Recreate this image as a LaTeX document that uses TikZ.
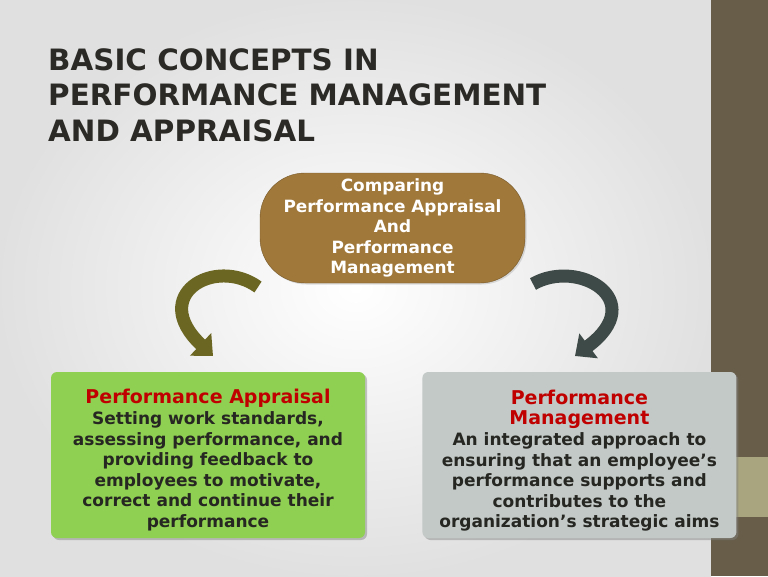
\documentclass[tikz,border=0pt]{standalone}
\usepackage{fontspec}
\setmainfont{DejaVu Sans}
\usepackage{xcolor}
\usetikzlibrary{positioning}
\usetikzlibrary{arrows.meta,shadows}

\definecolor{sidebar}{HTML}{675D49}
\definecolor{sideband}{HTML}{A9A57F}
\definecolor{titlegray}{HTML}{2B2A26}
\definecolor{ovalbrown}{HTML}{A0783A}
\definecolor{boxgreen}{HTML}{8FCF52}
\definecolor{boxgray}{HTML}{C2C9C6}
\definecolor{headred}{HTML}{C00000}
\definecolor{bodydark}{HTML}{262622}
\definecolor{arrowolive}{HTML}{6B6722}
\definecolor{arrowslate}{HTML}{3E4A47}

\newcommand{\headfont}{\bfseries\fontsize{19}{21}\selectfont}

\begin{document}
\begin{tikzpicture}[x=1pt,y=-1pt,
  oval/.style={draw=ovalbrown!75!black, fill=ovalbrown, rounded corners=45pt,
    minimum width=265pt, minimum height=110pt, inner sep=0pt, align=center,
    text=white, font=\bfseries\fontsize{16.9}{20.5}\selectfont,
    drop shadow={opacity=0.25, shadow xshift=1.5pt, shadow yshift=-1.5pt}},
  conceptbox/.style={rounded corners=6pt, minimum width=314pt, minimum height=166pt,
    inner sep=0pt, align=center, text=bodydark,
    font=\bfseries\fontsize{17}{20.6}\selectfont,
    drop shadow={opacity=0.45, shadow xshift=2pt, shadow yshift=-2pt}},
  curvearrow/.style={line width=13pt, -{Triangle[width=30pt,length=17pt]}}]

\useasboundingbox (0,0) rectangle (768,576);

% Background
\shade[inner color=white, outer color=black!12] (0,0) rectangle (711,576);
\fill[sidebar] (711,0) rectangle (768,576);
\fill[sideband] (711,457) rectangle (768,517);

% Title
\node [anchor=north west, align=left, inner sep=0pt, text=titlegray,
  font=\bfseries\fontsize{29.4}{35.5}\selectfont] (title) at (48,48)
  {BASIC CONCEPTS IN\\PERFORMANCE MANAGEMENT\\AND APPRAISAL};

% Top
\node [oval] (compare) at (392.5,228) {Comparing\\Performance Appraisal\\And\\Performance\\Management};

% Bottom row
\node [conceptbox, fill=boxgreen] (appraisal) at (208,455)
  {\rule{0pt}{25pt}{\color{headred}\headfont Performance Appraisal}\\
   Setting work standards,\\assessing performance, and\\providing feedback to\\
   employees to motivate,\\correct and continue their\\performance};
\node [conceptbox, fill=boxgray, right=57pt of appraisal] (management)
  {\rule{0pt}{26pt}{\color{headred}\headfont Performance}\\{\color{headred}\headfont Management}\\
   An integrated approach to\\ensuring that an employee’s\\performance supports and\\
   contributes to the\\organization’s strategic aims};

% Arrows
\coordinate (lefttail) at (258,287);
\coordinate (lefthead) at (213,356);
\coordinate (righttail) at (533,284);
\coordinate (righthead) at (575,356);
\draw [curvearrow, arrowolive] (lefttail) .. controls (215,256) and (148,295) .. (lefthead);
\draw [curvearrow, arrowslate] (righttail) .. controls (578,258) and (650,300) .. (righthead);

\end{tikzpicture}
\end{document}
